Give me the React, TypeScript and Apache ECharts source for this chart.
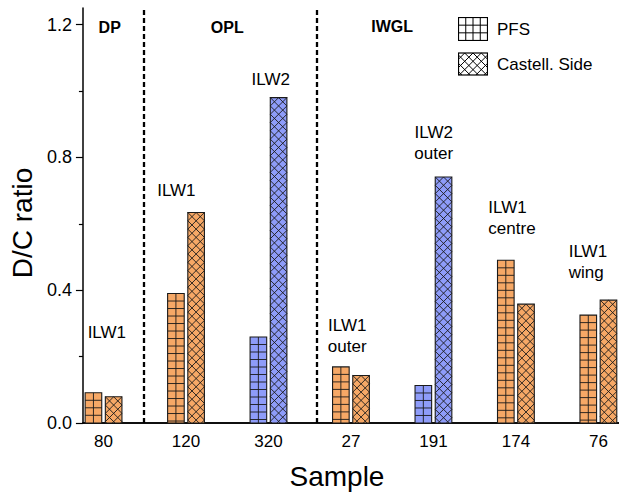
import React, { useEffect, useRef } from 'react';
import * as echarts from 'echarts';

// ---------------- data ----------------
const samples = ['80', '120', '320', '27', '191', '174', '76'];
const pfs = [0.091, 0.39, 0.259, 0.169, 0.113, 0.49, 0.325];
const castell = [0.079, 0.634, 0.98, 0.143, 0.741, 0.358, 0.37];
const campaign = ['ILW1', 'ILW1', 'ILW2', 'ILW1', 'ILW2', 'ILW1', 'ILW1'];
const location = ['', '', '', 'outer', 'outer', 'centre', 'wing'];
const regions = ['DP', 'OPL', 'IWGL'];
const regionBounds = [1.49, 3.59];
const yTicks = [0, 0.4, 0.8, 1.2];
const yMinorTicks = [0.2, 0.6, 1.0];
const seriesNames = ['PFS', 'Castell. Side'];

// ---------------- layout / style ----------------
const FONT = '"Liberation Sans", Arial, Helvetica, sans-serif';
const COLORS: Record<string, string> = { ILW1: '#F6A866', ILW2: '#8E9CF9' };
const BAR_W = 16.6;
const BAR_OFF = 10.1;
const labelAnchors: [number, number, string][] = [
  [1.04, 0.273, 'center'],
  [1.883, 0.699, 'center'],
  [3.027, 1.034, 'center'],
  [3.955, 0.261, 'center'],
  [5.003, 0.843, 'center'],
  [5.666, 0.617, 'left'],
  [6.64, 0.4845, 'left'],
];
const regionAnchors: [number, number][] = [
  [1.075, 1.19],
  [2.5, 1.19],
  [4.5, 1.195],
];

type Seg = [number, number, number, number];

function gridSegs(x0: number, x1: number, y0: number, y1: number, cols: number, cellH: number): Seg[] {
  const s: Seg[] = [];
  for (let k = 1; k < cols; k++) {
    const x = x0 + ((x1 - x0) * k) / cols;
    s.push([x, y0, x, y1]);
  }
  for (let y = y0 + cellH; y < y1 - 0.5; y += cellH) s.push([x0, y, x1, y]);
  return s;
}

function diagSegs(x0: number, x1: number, y0: number, y1: number, D: number): Seg[] {
  const s: Seg[] = [];
  const xc = (x0 + x1) / 2;
  const w = x1 - x0;
  const h = y1 - y0;
  for (const sign of [1, -1]) {
    const kMin = Math.floor(-w / (2 * D)) - 1;
    const kMax = Math.ceil((h + w / 2) / D) + 1;
    for (let k = kMin; k <= kMax; k++) {
      const ay = y0 + sign * (x0 - xc) + k * D;
      const by = y0 + sign * (x1 - xc) + k * D;
      const tA = (y0 - ay) / (by - ay);
      const tB = (y1 - ay) / (by - ay);
      const t0 = Math.max(0, Math.min(tA, tB));
      const t1 = Math.min(1, Math.max(tA, tB));
      if (t1 - t0 > 1e-6) {
        s.push([x0 + w * t0, ay + (by - ay) * t0, x0 + w * t1, ay + (by - ay) * t1]);
      }
    }
  }
  return s;
}

function iconURL(kind: number): string {
  const W = 30;
  const H = kind === 0 ? 24 : 23;
  const segs =
    kind === 0 ? gridSegs(0.5, W - 0.5, 0.5, H - 0.5, 4, (H - 1) / 3) : diagSegs(0.5, W - 0.5, 0.5, H - 0.5, 8.3);
  const lines = segs
    .map(([a, b, c, d]) => `<line x1="${a.toFixed(2)}" y1="${b.toFixed(2)}" x2="${c.toFixed(2)}" y2="${d.toFixed(2)}"/>`)
    .join('');
  const svg =
    `<svg xmlns="http://www.w3.org/2000/svg" width="${W}" height="${H}" viewBox="0 0 ${W} ${H}">` +
    `<rect x="0.5" y="0.5" width="${W - 1}" height="${H - 1}" fill="#ffffff"/>` +
    `<g stroke="#000000" stroke-width="1">${lines}</g>` +
    `<rect x="0.5" y="0.5" width="${W - 1}" height="${H - 1}" fill="none" stroke="#000000" stroke-width="1.2"/></svg>`;
  return 'image://data:image/svg+xml;charset=utf-8,' + encodeURIComponent(svg);
}

const makeRender = (kind: number) => (params: any, api: any) => {
  const i = params.dataIndex;
  const xv = api.value(0);
  const base = api.coord([xv, 0]);
  const top = api.coord([xv, api.value(1)]);
  const cx = base[0] + (kind === 0 ? -BAR_OFF : BAR_OFF);
  const x0 = cx - BAR_W / 2;
  const x1 = cx + BAR_W / 2;
  const y0 = top[1];
  const y1 = base[1];
  const segs = kind === 0 ? gridSegs(x0, x1, y0, y1, 2, 7.5) : diagSegs(x0, x1, y0, y1, 8.3);
  const fill = COLORS[campaign[i]];
  return {
    type: 'group',
    children: [
      { type: 'rect', shape: { x: x0, y: y0, width: BAR_W, height: y1 - y0 }, style: { fill, stroke: 'none' } },
      ...segs.map(([a, b, c, d]) => ({
        type: 'line',
        shape: { x1: a, y1: b, x2: c, y2: d },
        style: { stroke: '#1a1a1a', lineWidth: 0.9 },
      })),
      {
        type: 'rect',
        shape: { x: x0, y: y0, width: BAR_W, height: y1 - y0 },
        style: { fill: 'none', stroke: '#1a1a1a', lineWidth: 1.1 },
      },
    ],
  };
};

function buildOption(): any {
  const textBase = { fontFamily: FONT, color: '#000' };
  return {
    animation: false,
    backgroundColor: '#ffffff',
    grid: { left: 80, right: 0, top: 8, bottom: 68, containLabel: false },
    legend: {
      orient: 'vertical',
      left: 453,
      top: 12,
      itemWidth: 30,
      itemHeight: 24,
      itemGap: 11,
      selectedMode: false,
      data: [
        { name: seriesNames[0], icon: iconURL(0) },
        { name: seriesNames[1], icon: iconURL(1) },
      ],
      textStyle: { ...textBase, fontSize: 17, padding: [0, 0, 0, 4] },
    },
    xAxis: [
      {
        type: 'value',
        min: 0.75,
        max: 7.25,
        position: 'bottom',
        splitLine: { show: false },
        axisLine: { show: true, lineStyle: { color: '#000', width: 1.5 } },
        axisTick: { show: false },
        axisLabel: {
          ...textBase,
          fontSize: 17,
          margin: 10,
          customValues: samples.map((_, i) => i + 1),
          formatter: (v: number) => samples[Math.round(v) - 1] ?? '',
        },
        name: 'Sample',
        nameLocation: 'middle',
        nameGap: 39,
        nameTextStyle: { ...textBase, fontSize: 28, padding: [0, 28, 0, 0] },
      },
      {
        type: 'value',
        min: 0.75,
        max: 7.25,
        position: 'top',
        splitLine: { show: false },
        axisLine: { show: true, lineStyle: { color: '#000', width: 1.5 } },
        axisTick: { show: false },
        axisLabel: { show: false },
      },
    ],
    yAxis: [
      {
        type: 'value',
        min: 0,
        max: 1.25,
        position: 'left',
        splitLine: { show: false },
        axisLine: { show: true, lineStyle: { color: '#000', width: 1.5 } },
        axisTick: { show: true, length: 7, customValues: yTicks, lineStyle: { color: '#000', width: 1.2 } },
        axisLabel: {
          ...textBase,
          fontSize: 18,
          margin: 11,
          customValues: yTicks,
          formatter: (v: number) => v.toFixed(1),
        },
        name: 'D/C ratio',
        nameLocation: 'middle',
        nameGap: 44,
        nameTextStyle: { ...textBase, fontSize: 28, padding: [0, 15, 0, 0] },
      },
      {
        type: 'value',
        min: 0,
        max: 1.25,
        position: 'left',
        splitLine: { show: false },
        axisLine: { show: false },
        axisTick: { show: true, length: 4, customValues: yMinorTicks, lineStyle: { color: '#000', width: 1.2 } },
        axisLabel: { show: false },
      },
    ],
    series: [
      {
        name: seriesNames[0],
        type: 'custom',
        xAxisIndex: 0,
        yAxisIndex: 0,
        renderItem: makeRender(0),
        encode: { x: 0, y: 1 },
        data: pfs.map((v, i) => [i + 1, v]),
      },
      {
        name: seriesNames[1],
        type: 'custom',
        xAxisIndex: 0,
        yAxisIndex: 0,
        renderItem: makeRender(1),
        encode: { x: 0, y: 1 },
        data: castell.map((v, i) => [i + 1, v]),
      },
      {
        name: 'labels',
        type: 'scatter',
        xAxisIndex: 0,
        yAxisIndex: 0,
        symbolSize: 0,
        itemStyle: { color: '#000', opacity: 1 },
        silent: true,
        data: samples.map((_, i) => {
          const [ax, ay, align] = labelAnchors[i];
          const text = campaign[i] + (location[i] ? '\n' + location[i] : '');
          return {
            value: [ax, ay],
            label: {
              show: true,
              formatter: text,
              position: align === 'left' ? 'right' : 'inside',
              distance: 0,
              align: align === 'left' ? 'left' : 'center',
              ...textBase,
              opacity: 1,
              textBorderWidth: 0,
              fontSize: 17,
              lineHeight: 21,
            },
          };
        }),
        markLine: {
          silent: true,
          symbol: ['none', 'none'],
          label: { show: false },
          lineStyle: { color: '#000', width: 2.3, type: [5, 3], opacity: 1 },
          data: regionBounds.map((b) => ({ xAxis: b })),
        },
      },
      {
        name: 'regions',
        type: 'scatter',
        xAxisIndex: 0,
        yAxisIndex: 0,
        symbolSize: 0,
        itemStyle: { color: '#000', opacity: 1 },
        silent: true,
        data: regions.map((r, i) => ({
          value: regionAnchors[i],
          label: {
            show: true,
            formatter: r,
            position: 'inside',
            ...textBase,
            opacity: 1,
            textBorderWidth: 0,
            fontSize: 16,
            fontWeight: 'bold',
          },
        })),
      },
    ],
  };
}

export default function App() {
  const ref = useRef<HTMLDivElement>(null);
  useEffect(() => {
    if (!ref.current) return;
    const chart = echarts.init(ref.current, undefined, { renderer: 'svg' });
    chart.setOption(buildOption());
    return () => chart.dispose();
  }, []);
  return (
    <div
      ref={ref}
      style={{ position: 'absolute', left: 0, top: 0, width: 619, height: 495, background: '#fff' }}
    />
  );
}
